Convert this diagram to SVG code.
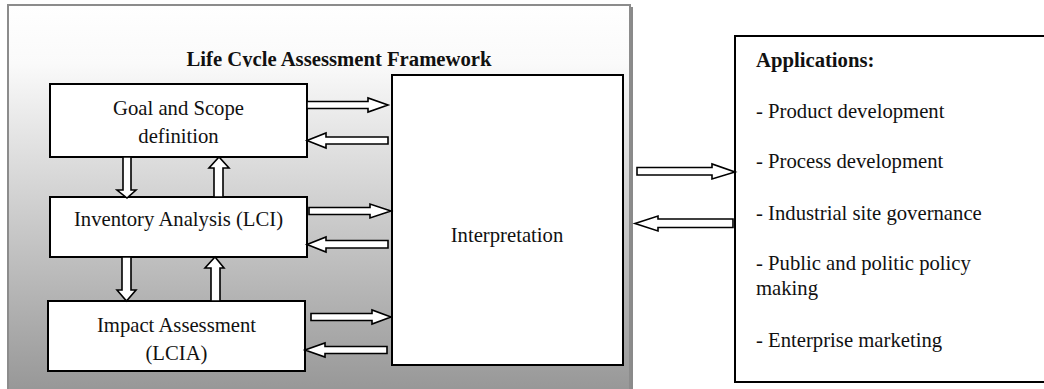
<svg xmlns="http://www.w3.org/2000/svg" width="1044" height="389" viewBox="0 0 1044 389">
<defs>
<linearGradient id="bg" x1="0" y1="0" x2="0" y2="1">
<stop offset="0" stop-color="#ffffff"/>
<stop offset="0.15" stop-color="#fafafa"/>
<stop offset="1" stop-color="#969696"/>
</linearGradient>
<clipPath id="titleClip"><rect x="100" y="40" width="450" height="27"/></clipPath>
<style>
.box{fill:#fff;stroke:#000;stroke-width:2}
.arr{fill:#fff;stroke:#000;stroke-width:1.6;stroke-linejoin:miter}
.t{font-size:20.7px;fill:#111}
.c{text-anchor:middle}
.b{font-weight:bold}
</style>
</defs>
<rect width="1044" height="389" fill="#fff"/>
<g id="frame">
<rect x="631" y="7" width="2" height="384" fill="#8a8a8a"/>
<rect x="8" y="5" width="622" height="390" fill="url(#bg)" stroke="#8c8c8c" stroke-width="2"/>
<text class="t b c" font-family="Liberation Serif, Times New Roman, serif" x="339" y="65.5" clip-path="url(#titleClip)">Life Cycle Assessment Framework</text>
</g>
<g id="goal">
<rect class="box" x="50" y="84" width="257" height="73"/>
<text class="t c" font-family="Liberation Serif, Times New Roman, serif" x="178.5" y="115">Goal and Scope</text>
<text class="t c" font-family="Liberation Serif, Times New Roman, serif" x="178.5" y="143">definition</text>
</g>
<g id="inventory">
<rect class="box" x="50" y="197" width="257" height="60"/>
<text class="t c" font-family="Liberation Serif, Times New Roman, serif" x="178.5" y="226">Inventory Analysis (LCI)</text>
</g>
<g id="impact">
<rect class="box" x="48" y="301" width="257" height="70"/>
<text class="t c" font-family="Liberation Serif, Times New Roman, serif" x="176.5" y="332">Impact Assessment</text>
<text class="t c" font-family="Liberation Serif, Times New Roman, serif" x="176.5" y="360">(LCIA)</text>
</g>
<g id="interpretation">
<rect class="box" x="392" y="75" width="231" height="290"/>
<text class="t c" font-family="Liberation Serif, Times New Roman, serif" x="507" y="242">Interpretation</text>
</g>
<g id="applications">
<rect class="box" x="735" y="36" width="312" height="346"/>
<text class="t b" font-family="Liberation Serif, Times New Roman, serif" x="756" y="67">Applications:</text>
<text class="t" font-family="Liberation Serif, Times New Roman, serif" x="756" y="118">- Product development</text>
<text class="t" font-family="Liberation Serif, Times New Roman, serif" x="756" y="168">- Process development</text>
<text class="t" font-family="Liberation Serif, Times New Roman, serif" x="756" y="220">- Industrial site governance</text>
<text class="t" font-family="Liberation Serif, Times New Roman, serif" x="756" y="270">- Public and politic policy</text>
<text class="t" font-family="Liberation Serif, Times New Roman, serif" x="756" y="295">making</text>
<text class="t" font-family="Liberation Serif, Times New Roman, serif" x="756" y="347">- Enterprise marketing</text>
</g>
<g id="connectors">
<path class="arr" d="M307,101.5 H368 V98 L388,105 L368,112 V108.5 H307 Z"/>
<path class="arr" d="M388,137 H326 V133 L307,140.5 L326,148 V144 H388 Z"/>
<path class="arr" d="M309,207.5 H370 V204 L391,211 L370,218 V214.5 H309 Z"/>
<path class="arr" d="M388,240.5 H326 V237 L307,244.5 L326,252 V248 H388 Z"/>
<path class="arr" d="M311,313.5 H372 V310 L391,317 L372,324 V320.5 H311 Z"/>
<path class="arr" d="M387,346.5 H325 V343 L305,350 L325,357 V353.5 H387 Z"/>
<path class="arr" d="M123,157 V190 H117 L127,198 L136,190 H131 V157 Z"/>
<path class="arr" d="M214,197 V168 H209 L219,157 L229,168 H223 V197 Z"/>
<path class="arr" d="M122,257 V290 H117 L126.5,301 L136,290 H131 V257 Z"/>
<path class="arr" d="M211,301 V268 H205 L215,257 L224,268 H220 V301 Z"/>
<path class="arr" d="M637,167.5 H712 V164 L735,172 L712,179 V175 H637 Z"/>
<path class="arr" d="M733,219 H658 V216 L635,223.5 L658,231 V227.5 H733 Z"/>
</g>
</svg>
